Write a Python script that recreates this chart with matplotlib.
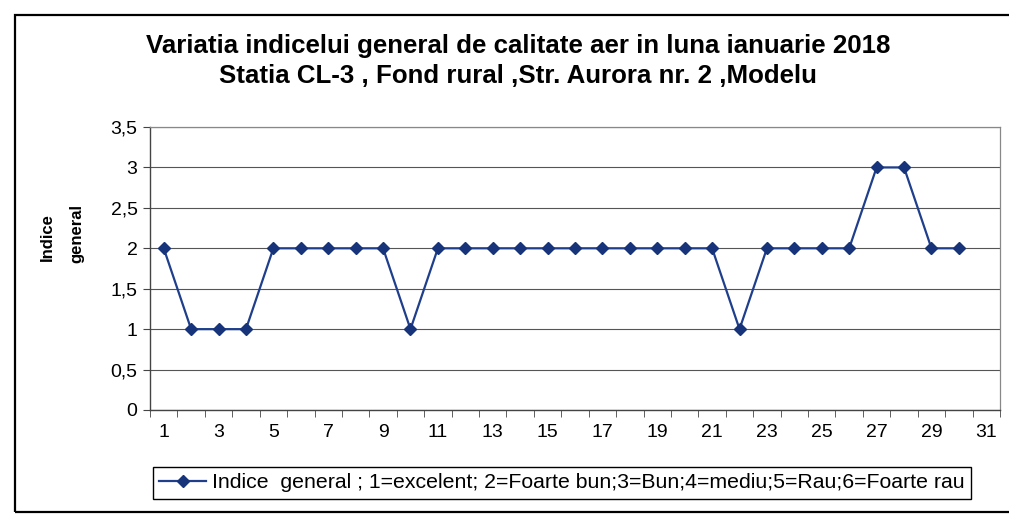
import matplotlib

matplotlib.use("Agg")
import matplotlib.pyplot as plt
from matplotlib.patches import Rectangle

days = list(range(1, 31))
indice = [2, 1, 1, 1, 2, 2, 2, 2, 2, 1,
          2, 2, 2, 2, 2, 2, 2, 2, 2, 2,
          2, 1, 2, 2, 2, 2, 3, 3, 2, 2]
x_labels = [str(d) for d in range(1, 32, 2)]
y_ticks = [0, 0.5, 1, 1.5, 2, 2.5, 3, 3.5]
y_labels = ["0", "0,5", "1", "1,5", "2", "2,5", "3", "3,5"]

title = ("Variatia indicelui general de calitate aer in luna ianuarie 2018\n"
         "Statia CL-3 , Fond rural ,Str. Aurora nr. 2 ,Modelu")
legend_label = "Indice  general ; 1=excelent; 2=Foarte bun;3=Bun;4=mediu;5=Rau;6=Foarte rau"

plt.rcParams["font.family"] = ["Liberation Sans", "DejaVu Sans"]

fig = plt.figure(figsize=(10.09, 5.26), dpi=100)
fig.patch.set_facecolor("white")

# outer chart frame
fig.add_artist(Rectangle((15 / 1009, 1 - 512 / 526), 1.2, 497 / 526,
                         transform=fig.transFigure, fill=False,
                         edgecolor="black", linewidth=1.6))

ax = fig.add_axes([150 / 1009, 1 - 410 / 526, 850 / 1009, 283 / 526])
(line,) = ax.plot(days, indice, color="#1f3f8c", linewidth=1.6,
                  marker="D", markersize=6.5, markerfacecolor="#17337a",
                  markeredgecolor="#17337a", label=legend_label)

ax.set_xlim(0.5, 31.5)
ax.set_ylim(0, 3.5)
ax.set_yticks(y_ticks)
ax.set_yticklabels(y_labels, fontsize=14)
ax.set_xticks(range(1, 32, 2))
ax.set_xticklabels(x_labels, fontsize=14)
ax.set_xticks([i + 0.5 for i in range(0, 32)], minor=True)
ax.tick_params(axis="x", which="major", length=0, pad=10)
ax.tick_params(axis="x", which="minor", length=5, direction="out", color="#444444")
ax.tick_params(axis="y", length=5, direction="out", color="#444444", pad=4)

ax.grid(axis="y", color="#555555", linewidth=0.8)
ax.set_axisbelow(True)
for side in ["top", "right"]:
    ax.spines[side].set_color("#888888")
    ax.spines[side].set_linewidth(0.9)
for side in ["left", "bottom"]:
    ax.spines[side].set_color("#444444")
    ax.spines[side].set_linewidth(1.0)

fig.text(518 / 1009, 1 - 61 / 526, title, ha="center", va="center",
         fontsize=18.6, fontweight="bold", linespacing=1.35)
fig.text(47 / 1009, 1 - 237 / 526, "Indice", rotation=90, ha="center",
         va="center", fontsize=12, fontweight="bold")
fig.text(77 / 1009, 1 - 233 / 526, "general", rotation=90, ha="center",
         va="center", fontsize=12, fontweight="bold")

fig.legend(handles=[line], loc="center", bbox_to_anchor=(562 / 1009, 1 - 483 / 526),
           fontsize=15.3, frameon=True, fancybox=False, edgecolor="black",
           handlelength=2.2, handletextpad=0.3, borderpad=0.3, framealpha=1)

fig.savefig("out.png", dpi=100)
